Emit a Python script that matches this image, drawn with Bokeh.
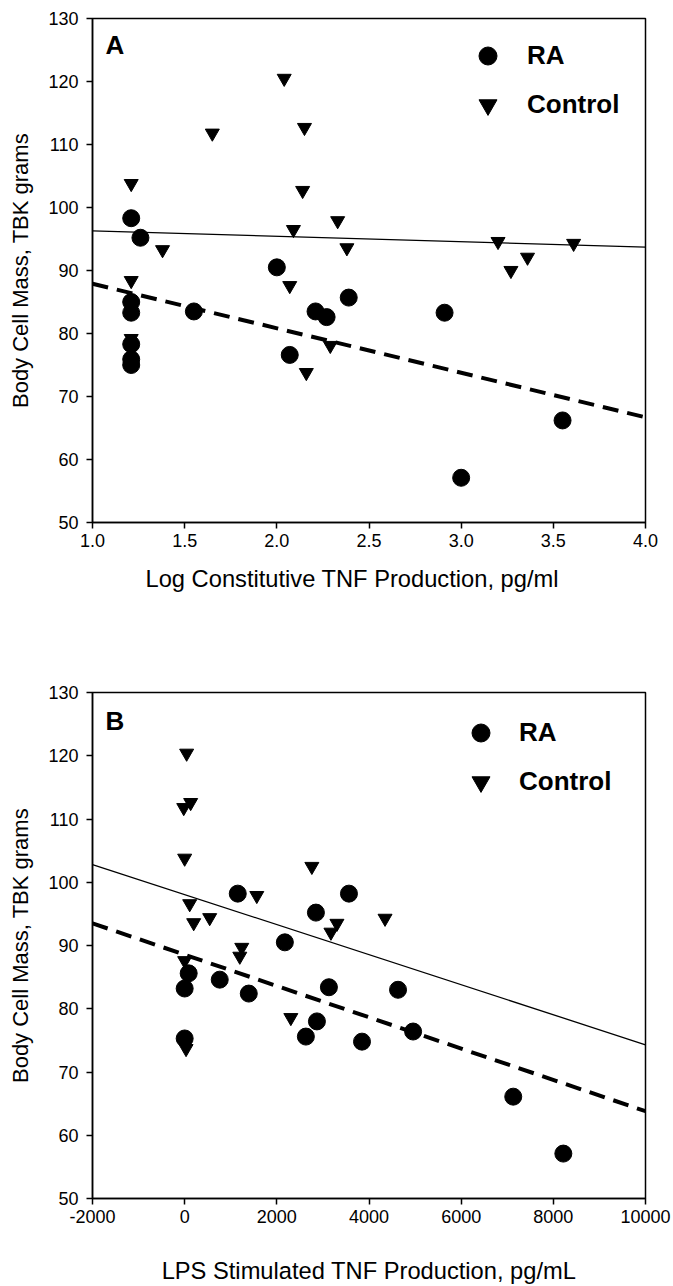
from bokeh.plotting import figure
from bokeh.models import Range1d, FixedTicker, Legend, LegendItem, Label, Title
from bokeh.layouts import column
from bokeh.embed import file_html
from bokeh.resources import INLINE

FONT = "Liberation Sans"

# ---------------- Panel A data ----------------
a_ra_x = [1.21, 1.26, 1.21, 1.21, 1.21, 1.21, 1.21, 1.55, 2.00, 2.07, 2.21, 2.27, 2.39, 2.91, 3.00, 3.55]
a_ra_y = [98.3, 95.2, 85.0, 83.3, 78.3, 75.9, 75.0, 83.5, 90.5, 76.6, 83.5, 82.6, 85.7, 83.3, 57.1, 66.2]
a_ctrl_x = [2.04, 1.65, 2.15, 1.21, 2.14, 1.38, 2.09, 2.33, 2.38, 1.21, 2.07, 3.20, 3.61, 3.36, 3.27, 2.29, 2.16, 1.21]
a_ctrl_y = [120.5, 111.8, 112.7, 103.8, 102.7, 93.3, 96.5, 97.9, 93.6, 88.4, 87.6, 94.6, 94.3, 92.1, 90.0, 78.1, 73.8, 79.2]
a_ra_fit_x = [1.0, 4.0]
a_ra_fit_y = [87.9, 66.7]
a_ctrl_fit_x = [1.0, 4.0]
a_ctrl_fit_y = [96.3, 93.7]
a_xticks = [1.0, 1.5, 2.0, 2.5, 3.0, 3.5, 4.0]
a_xtick_labels = ["1.0", "1.5", "2.0", "2.5", "3.0", "3.5", "4.0"]
a_xlabel = "Log Constitutive TNF Production, pg/ml"

# ---------------- Panel B data ----------------
b_ra_x = [1152, 3565, 2848, 2174, 87, 0, 761, 1391, 3130, 4630, 2870, 2630, 3848, 4957, 0, 7130, 8217]
b_ra_y = [98.2, 98.2, 95.2, 90.5, 85.6, 83.2, 84.6, 82.4, 83.4, 83.0, 78.0, 75.6, 74.8, 76.4, 75.3, 66.1, 57.1]
b_ctrl_x = [43, 130, -20, 0, 2760, 1565, 109, 196, 543, 3304, 3174, 4348, 1239, 1196, 0, 2304, 30]
b_ctrl_y = [120.4, 112.6, 111.8, 103.8, 102.5, 97.9, 96.6, 93.6, 94.4, 93.5, 92.1, 94.3, 89.7, 88.3, 87.6, 78.6, 73.7]
b_ra_fit_x = [-2000, 10000]
b_ra_fit_y = [93.5, 63.8]
b_ctrl_fit_x = [-2000, 10000]
b_ctrl_fit_y = [102.8, 74.3]
b_xticks = [-2000, 0, 2000, 4000, 6000, 8000, 10000]
b_xtick_labels = ["-2000", "0", "2000", "4000", "6000", "8000", "10000"]
b_xlabel = "LPS Stimulated TNF Production, pg/mL"

yticks = [50, 60, 70, 80, 90, 100, 110, 120, 130]
ytick_labels = ["50", "60", "70", "80", "90", "100", "110", "120", "130"]
ylabel = "Body Cell Mass, TBK grams"
series_names = ["RA", "Control"]


def make_panel(height, border_top, border_bottom, xr, ra_x, ra_y, ctrl_x, ctrl_y,
               ra_fit_x, ra_fit_y, ctrl_fit_x, ctrl_fit_y, xticks, xtick_labels,
               xlabel, letter, legend_loc, legend_standoff, title_mode, title_standoff,
               title_offset=0):
    p = figure(width=673, height=height, x_range=Range1d(xr[0], xr[1]),
               y_range=Range1d(50, 130), output_backend="svg", toolbar_location=None,
               min_border_left=92, min_border_right=28,
               min_border_top=border_top, min_border_bottom=border_bottom)
    p.xgrid.visible = False
    p.ygrid.visible = False
    p.outline_line_color = "black"
    p.outline_line_width = 1.5
    p.outline_line_alpha = 1.0
    p.background_fill_color = "white"
    p.border_fill_color = "white"

    p.line(ctrl_fit_x, ctrl_fit_y, line_color="black", line_width=1.3)
    p.line(ra_fit_x, ra_fit_y, line_color="black", line_width=4, line_dash="16 9")

    r_ctrl = p.scatter(ctrl_x, ctrl_y, marker="inverted_triangle", size=14,
                       fill_color="black", line_color="black")
    r_ra = p.scatter(ra_x, ra_y, marker="circle", size=17,
                     fill_color="black", line_color="black")

    for ax in (p.xaxis[0], p.yaxis[0]):
        ax.axis_line_color = "black"
        ax.axis_line_width = 1.5
        ax.major_tick_line_color = "black"
        ax.major_tick_line_width = 1.5
        ax.major_tick_out = 6
        ax.major_tick_in = 0
        ax.minor_tick_line_color = None
        ax.major_label_text_font = FONT
        ax.major_label_text_font_size = "18px"
        ax.major_label_text_color = "black"
        ax.axis_label_text_font = FONT
        ax.axis_label_text_font_style = "normal"
        ax.axis_label_text_color = "black"
        ax.axis_label_text_font_size = "22px"

    p.xaxis[0].ticker = FixedTicker(ticks=xticks)
    p.xaxis[0].major_label_overrides = {t: s for t, s in zip(xticks, xtick_labels)}
    p.xaxis[0].major_label_standoff = 5

    p.yaxis[0].ticker = FixedTicker(ticks=yticks)
    p.yaxis[0].major_label_overrides = {t: s for t, s in zip(yticks, ytick_labels)}
    p.yaxis[0].major_label_standoff = 8
    p.yaxis[0].axis_label = ylabel
    p.yaxis[0].axis_label_standoff = 12

    if title_mode == "title":
        p.add_layout(Title(text=xlabel, align="left", offset=title_offset,
                           standoff=title_standoff, text_font=FONT,
                           text_font_size="23.7px", text_font_style="normal",
                           text_color="black"), "below")
    else:
        p.xaxis[0].axis_label = xlabel
        p.xaxis[0].axis_label_text_font_size = "23.7px"
        p.xaxis[0].axis_label_standoff = title_standoff

    legend = Legend(items=[LegendItem(label=series_names[0], renderers=[r_ra]),
                           LegendItem(label=series_names[1], renderers=[r_ctrl])],
                    location=legend_loc, glyph_width=45, glyph_height=45,
                    label_text_font=FONT, label_text_font_size="26px",
                    label_text_font_style="bold", label_text_color="black",
                    label_standoff=legend_standoff, spacing=4, padding=0, margin=0,
                    border_line_color=None, background_fill_alpha=0.0)
    p.add_layout(legend)

    p.add_layout(Label(x=13, y=478, x_units="screen", y_units="screen", text=letter,
                       text_font=FONT, text_font_size="26px", text_font_style="bold",
                       text_color="black", text_baseline="middle", text_align="left"))
    return p


pa = make_panel(612, 18, 90, (1.0, 4.0), a_ra_x, a_ra_y, a_ctrl_x, a_ctrl_y,
                a_ra_fit_x, a_ra_fit_y, a_ctrl_fit_x, a_ctrl_fit_y,
                a_xticks, a_xtick_labels, a_xlabel, "A", (373, 395), 17,
                "title", 28, 53)
pb = make_panel(674, 80, 88, (-2000, 10000), b_ra_x, b_ra_y, b_ctrl_x, b_ctrl_y,
                b_ra_fit_x, b_ra_fit_y, b_ctrl_fit_x, b_ctrl_fit_y,
                b_xticks, b_xtick_labels, b_xlabel, "B", (366, 394), 16,
                "axis", 32)

layout = column(pa, pb)
open("out.html", "w").write(file_html(layout, INLINE))
